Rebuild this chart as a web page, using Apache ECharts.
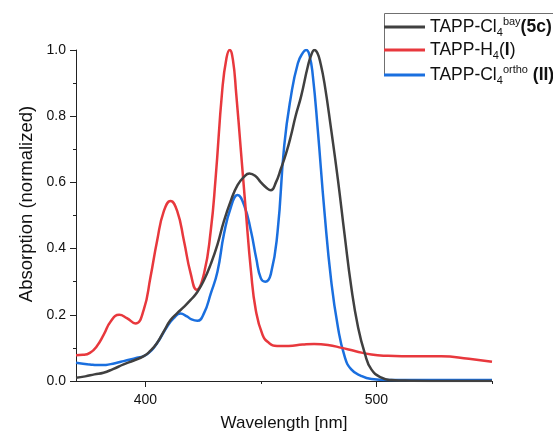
<!DOCTYPE html>
<html>
<head>
<meta charset="utf-8">
<script src="https://cdn.jsdelivr.net/npm/echarts@6/dist/echarts.min.js"></script>
<style>
  html, body { margin: 0; padding: 0; background: #fff; }
  #chart { width: 553px; height: 437px; }
</style>
</head>
<body>
<div id="chart"></div>
<script>
// UV-vis absorption spectra (normalized) of the three TAPP derivatives.

// TAPP-Cl4 bay (5c)
const bayWavelength = [370, 374, 378, 381.9, 386, 390.6, 395, 399.3, 402, 405, 408, 410.9, 413.8, 416.7, 419.6, 422.5, 425.4, 428.3, 431.2, 434, 437, 439.9, 442.7, 445, 447.5, 450, 452.5, 454.3, 456.5, 458.7, 461, 463, 465, 467.4, 470.3, 471.9, 473.2, 474.5, 475.8, 477.5, 480.4, 483.3, 486.2, 489.1, 492, 494.9, 497.8, 502.2, 506.5, 515, 530, 550];
const bayAbs = [0.010, 0.014, 0.020, 0.025, 0.036, 0.050, 0.062, 0.075, 0.090, 0.114, 0.150, 0.184, 0.205, 0.224, 0.245, 0.269, 0.305, 0.353, 0.412, 0.483, 0.545, 0.592, 0.617, 0.627, 0.620, 0.600, 0.583, 0.576, 0.600, 0.642, 0.690, 0.741, 0.800, 0.860, 0.950, 0.987, 1.000, 0.990, 0.960, 0.900, 0.760, 0.610, 0.443, 0.284, 0.164, 0.085, 0.035, 0.010, 0.003, 0.001, 0.000, 0.000];

// TAPP-H4 (I)
const h4Wavelength = [370, 373, 376, 379, 382, 385, 388.7, 392, 395.7, 399.3, 402.2, 405.1, 408, 410.9, 413.8, 416.7, 419.6, 422.2, 425.4, 428.3, 430.4, 433.3, 435.1, 436.5, 437.9, 439.3, 441.3, 443.5, 445.7, 447.8, 450.7, 453.5, 457, 462, 468, 473, 479, 485, 491, 497.8, 505, 511, 528, 540, 550];
const h4Abs = [0.078, 0.079, 0.085, 0.105, 0.140, 0.180, 0.200, 0.190, 0.174, 0.215, 0.313, 0.424, 0.513, 0.544, 0.513, 0.424, 0.325, 0.276, 0.325, 0.454, 0.612, 0.880, 0.975, 1.000, 0.970, 0.870, 0.700, 0.512, 0.333, 0.214, 0.140, 0.115, 0.106, 0.106, 0.110, 0.112, 0.109, 0.100, 0.090, 0.080, 0.076, 0.075, 0.075, 0.067, 0.058];

// TAPP-Cl4 ortho (II)
const orthoWavelength = [370, 373, 376, 379, 381.9, 385, 387.7, 390.6, 393.5, 396.4, 399.3, 401.5, 403.6, 406.5, 409.4, 412.3, 415.2, 418, 420, 422.5, 425.4, 428.3, 431.2, 434, 437, 439.9, 442.8, 445.7, 448, 450, 451.9, 454.3, 457.2, 460.1, 463, 466, 468.2, 469.6, 471, 472.5, 474.6, 477.5, 480.4, 483.3, 486.2, 489.1, 493.5, 497.8, 505, 550];
const orthoAbs = [0.055, 0.052, 0.050, 0.048, 0.048, 0.051, 0.055, 0.060, 0.065, 0.070, 0.075, 0.085, 0.100, 0.130, 0.164, 0.190, 0.204, 0.195, 0.186, 0.182, 0.205, 0.264, 0.330, 0.443, 0.525, 0.562, 0.530, 0.453, 0.370, 0.310, 0.300, 0.323, 0.450, 0.711, 0.860, 0.960, 0.992, 1.000, 0.985, 0.920, 0.760, 0.512, 0.304, 0.164, 0.075, 0.035, 0.015, 0.006, 0.003, 0.003];

const seriesNames = ['TAPP-Cl4bay(5c)', 'TAPP-H4(I)', 'TAPP-Cl4ortho (II)'];
const legendLabels = [
  '{n|TAPP-Cl}{sub|4}{sup|bay}{b|(5c)}',
  '{n|TAPP-H}{sub|4}{n|(}{b|I}{n|)}',
  '{n|TAPP-Cl}{sub|4}{sup|ortho}{n| }{b|(II)}'
];
const xMajorTicks = [400, 500];
const xMinorTicks = [450, 550];
const seriesColors = ['#404040', '#e8383d', '#1a6fdf'];

const FONT = '"Liberation Sans", Arial, Helvetica, sans-serif';

function pairs(xs, ys) {
  return xs.map((x, i) => [x, ys[i]]);
}

const chart = echarts.init(document.getElementById('chart'), null, { renderer: 'canvas' });

const lineSeries = [
  pairs(bayWavelength, bayAbs),
  pairs(h4Wavelength, h4Abs),
  pairs(orthoWavelength, orthoAbs)
].map((data, i) => ({
  name: seriesNames[i],
  type: 'line',
  data: data,
  xAxisIndex: 0,
  yAxisIndex: 0,
  showSymbol: false,
  smooth: 0.5,
  clip: true,
  lineStyle: { color: seriesColors[i], width: 2.5 },
  itemStyle: { color: seriesColors[i] },
  z: 3 - i
}));

const option = {
  animation: false,
  backgroundColor: '#ffffff',
  textStyle: { fontFamily: FONT },
  grid: { left: 76, right: 61, top: 50, bottom: 52, containLabel: false },
  legend: {
    data: seriesNames,
    orient: 'vertical',
    left: 384,
    top: 16,
    padding: 0,
    itemGap: 3,
    itemWidth: 41,
    itemHeight: 3,
    icon: 'rect',
    selectedMode: false,
    formatter: name => legendLabels[seriesNames.indexOf(name)],
    textStyle: {
      fontFamily: FONT,
      color: '#111',
      rich: {
        n: { fontSize: 17.5, lineHeight: 22, color: '#111', fontFamily: FONT },
        b: { fontSize: 17.5, lineHeight: 22, fontWeight: 'bold', color: '#111', fontFamily: FONT },
        sub: { fontSize: 11, lineHeight: 11, verticalAlign: 'bottom', color: '#111', fontFamily: FONT },
        sup: { fontSize: 11, lineHeight: 11, verticalAlign: 'top', color: '#111', fontFamily: FONT }
      }
    }
  },
  xAxis: [
    {
      type: 'value',
      min: 370,
      max: 550,
      position: 'bottom',
      name: 'Wavelength [nm]',
      nameLocation: 'middle',
      nameGap: 34,
      nameTextStyle: { fontSize: 17, color: '#111', fontFamily: FONT },
      axisLine: { show: true, onZero: false, lineStyle: { color: '#222', width: 1 } },
      axisTick: { show: true, inside: false, length: 6, customValues: xMajorTicks, lineStyle: { color: '#222', width: 1 } },
      axisLabel: { show: true, customValues: xMajorTicks, margin: 12, fontSize: 14, color: '#111', fontFamily: FONT },
      splitLine: { show: false }
    },
    {
      type: 'value',
      min: 370,
      max: 550,
      position: 'bottom',
      axisLine: { show: false, onZero: false },
      axisTick: { show: true, inside: false, length: 3, customValues: xMinorTicks, lineStyle: { color: '#222', width: 1 } },
      axisLabel: { show: false },
      splitLine: { show: false }
    }
  ],
  yAxis: {
    type: 'value',
    min: 0,
    max: 1,
    interval: 0.2,
    axisLine: { show: true, onZero: false, lineStyle: { color: '#222', width: 1 } },
    axisTick: { show: true, inside: false, length: 6, lineStyle: { color: '#222', width: 1 } },
    minorTick: { show: true, splitNumber: 2, length: 3, lineStyle: { color: '#222', width: 1 } },
    axisLabel: { margin: 10, fontSize: 14, color: '#111', fontFamily: FONT, formatter: v => v.toFixed(1) },
    splitLine: { show: false }
  },
  graphic: [
    {
      // y-axis title
      type: 'text',
      x: 27,
      y: 204,
      rotation: Math.PI / 2,
      style: {
        text: 'Absorption (normalized)',
        font: '18.5px ' + FONT,
        fill: '#111',
        align: 'center',
        verticalAlign: 'middle'
      }
    },
    {
      // legend frame (top and left edges)
      type: 'polyline',
      z: 0,
      shape: { points: [[553, 13.5], [384.5, 13.5], [384.5, 74]] },
      style: { stroke: '#707070', lineWidth: 1, fill: null }
    }
  ],
  series: lineSeries
};

chart.setOption(option);
</script>
</body>
</html>
